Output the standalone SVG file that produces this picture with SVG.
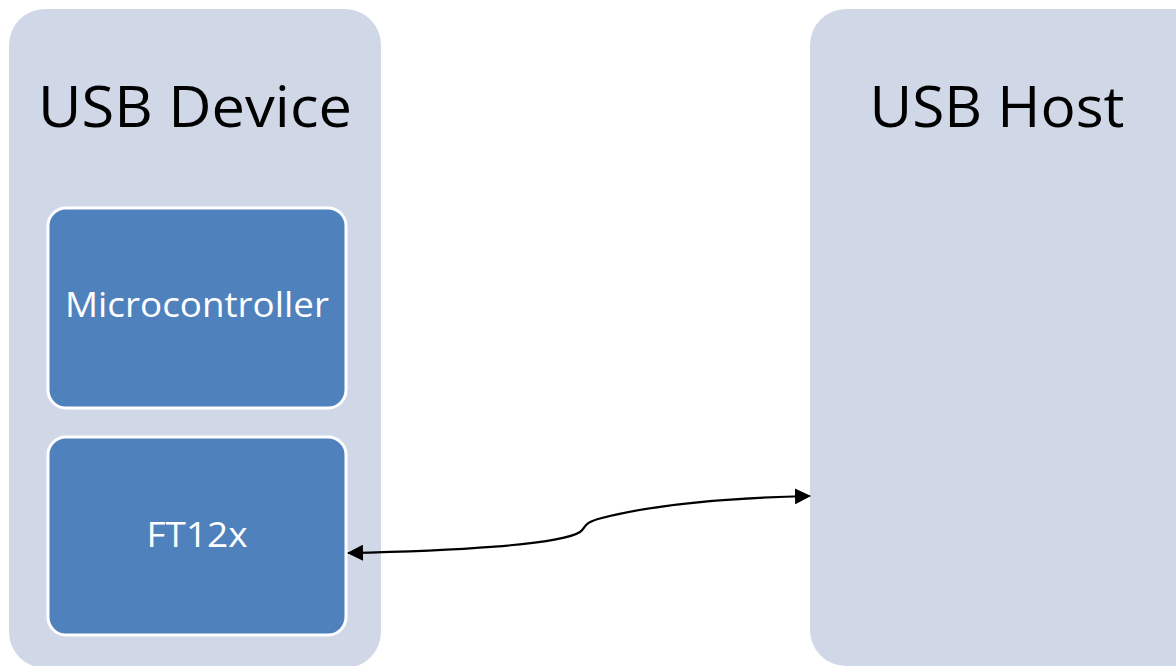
<svg xmlns="http://www.w3.org/2000/svg" width="1176" height="666" viewBox="0 0 1176 666">
<style>
.container{fill:#D0D8E8;}
.block{fill:#4F81BD;stroke:#FFFFFF;stroke-width:3;}
.title{font-family:"Open Sans","Liberation Sans",sans-serif;fill:#000;text-anchor:middle;}
.label{font-family:"Open Sans","Liberation Sans",sans-serif;fill:#FFFFFF;text-anchor:middle;}
.conn{fill:none;stroke:#000;stroke-width:2.2;}
</style>
<defs>
<marker id="arr" viewBox="0 0 16 16" refX="15" refY="8" markerWidth="16" markerHeight="16" orient="auto-start-reverse" markerUnits="userSpaceOnUse">
<path d="M0,0 L16,8 L0,16 z" fill="#000"/>
</marker>
</defs>
<rect width="1176" height="666" fill="#FFFFFF"/>
<g id="usb-device">
<rect class="container" x="9" y="9" width="372" height="659" rx="36" ry="36"/>
<text class="title" x="195" y="127" font-size="56" textLength="314" lengthAdjust="spacingAndGlyphs">USB Device</text>
</g>
<g id="usb-host">
<rect class="container" x="810" y="9" width="400" height="657" rx="36" ry="36"/>
<text class="title" x="997" y="127" font-size="56" textLength="255" lengthAdjust="spacingAndGlyphs">USB Host</text>
</g>
<g id="microcontroller">
<rect class="block" x="48" y="208" width="298" height="200" rx="18" ry="18"/>
<text class="label" x="197" y="317" font-size="35" textLength="264" lengthAdjust="spacingAndGlyphs">Microcontroller</text>
</g>
<g id="ft12x">
<rect class="block" x="48" y="437" width="298" height="198" rx="18" ry="18"/>
<text class="label" x="197" y="547" font-size="35" textLength="101" lengthAdjust="spacingAndGlyphs">FT12x</text>
</g>
<g id="connectors">
<path class="conn" d="M348,553 C450,551 560,545 580,532 C586,528 582,524 598,519 C650,505 720,498 810,496" marker-start="url(#arr)" marker-end="url(#arr)"/>
</g>
</svg>
